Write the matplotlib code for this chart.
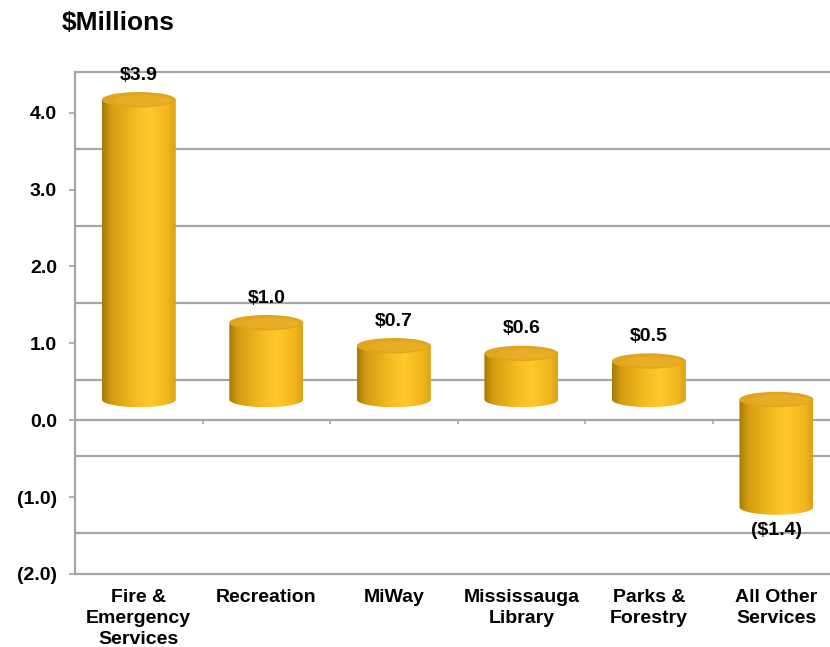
import numpy as np
import matplotlib.pyplot as plt
from matplotlib.patches import Ellipse, PathPatch
from matplotlib.path import Path
from matplotlib.colors import LinearSegmentedColormap

plt.rcParams['font.family'] = ['Liberation Sans', 'DejaVu Sans']
plt.rcParams['font.weight'] = 'bold'

# --- dane ---
services = ["Fire &\nEmergency\nServices", "Recreation", "MiWay",
            "Mississauga\nLibrary", "Parks &\nForestry", "All Other\nServices"]
values = [3.9, 1.0, 0.7, 0.6, 0.5, -1.4]
yticks = [-2, -1, 0, 1, 2, 3, 4]

# --- wygląd "3D" ---
depth = 0.27        # przesunięcie podstawy walca (perspektywa)
wall_shift = 0.47   # linie siatki na tylnej ścianie
half_w = 0.29       # połowa szerokości walca
half_h = 0.10       # połowa wysokości elipsy
grid_col = '#A6A6A6'

body_cmap = LinearSegmentedColormap.from_list(
    'gold', [(0.0, '#A87808'), (0.12, '#D49C12'), (0.45, '#F6BC22'),
             (0.65, '#FFC92B'), (0.88, '#F2B61F'), (1.0, '#DDA216')])

fig = plt.figure(figsize=(8.3, 6.47), dpi=100)
ax = fig.add_axes([75/830, 73/647, 755/830, 502/647])

x = np.arange(len(values))
grad = np.linspace(0, 1, 256).reshape(1, -1)

for xc, v in zip(x, values):
    y_a, y_b = depth, depth + v
    y_top, y_bot = max(y_a, y_b), min(y_a, y_b)
    th = np.linspace(np.pi, 2*np.pi, 60)
    arc = np.column_stack([xc + half_w*np.cos(th), y_bot + half_h*np.sin(th)])
    verts = np.vstack([[xc - half_w, y_top], arc, [xc + half_w, y_top], [xc - half_w, y_top]])
    body = PathPatch(Path(verts, closed=True), facecolor='none', edgecolor='none')
    ax.add_patch(body)
    im = ax.imshow(grad, cmap=body_cmap, aspect='auto', zorder=3,
                   extent=[xc - half_w, xc + half_w, y_bot - half_h, y_top])
    im.set_clip_path(body)
    ax.add_patch(Ellipse((xc, y_top), 2*half_w, 2*half_h, facecolor='#E0A51E',
                         edgecolor='none', zorder=4))
    ax.add_patch(Ellipse((xc + 0.03, y_top - 0.01), 1.6*half_w, 1.4*half_h,
                         facecolor='#E7AD24', edgecolor='none', zorder=4))
    # etykieta wartości
    txt = f"${abs(v):.1f}" if v >= 0 else f"(${abs(v):.1f})"
    if v >= 0:
        ax.annotate(txt, (xc, y_top + half_h), xytext=(0, 6), textcoords='offset points',
                    ha='center', va='bottom', fontsize=14, fontweight='bold', zorder=5)
    else:
        ax.annotate(txt, (xc, y_bot - half_h), xytext=(0, -11), textcoords='offset points',
                    ha='center', va='center', fontsize=14, fontweight='bold', zorder=5)

# siatka na tylnej ścianie i podłoga
for t in yticks[:-1]:
    ax.axhline(t + 1 - wall_shift, color=grid_col, lw=1.6, zorder=1)
ax.axhline(0, color=grid_col, lw=1.6, zorder=1)
ax.vlines(x[:-1] + 0.5, -0.055, 0, color=grid_col, lw=1.2, zorder=1)

ax.set_xlim(-0.5, 5.42)
ax.set_ylim(-2, 4.53)

ax.set_yticks(yticks)
ax.set_yticklabels([f"({abs(t):.1f})" if t < 0 else f"{t:.1f}" for t in yticks])
ax.set_xticks(x)
ax.set_xticklabels(services, linespacing=1.3)
ax.tick_params(axis='y', length=4.5, width=1.2, color=grid_col, pad=8.5, labelsize=14)
ax.tick_params(axis='x', length=0, pad=11, labelsize=14)

for s in ['left', 'bottom', 'top']:
    ax.spines[s].set_color(grid_col)
    ax.spines[s].set_linewidth(1.6)
ax.spines['right'].set_visible(False)

fig.text(62/830, 1 - 23/647, "$Millions", fontsize=19, fontweight='bold', va='center')

plt.savefig("out.png", dpi=100)
